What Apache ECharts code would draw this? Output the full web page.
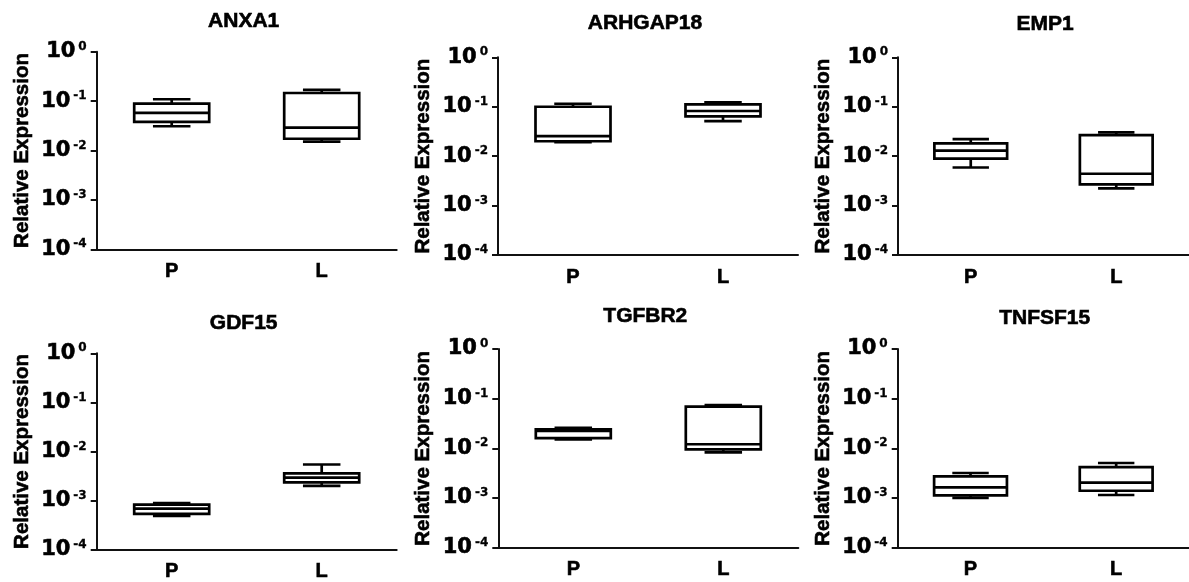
<!DOCTYPE html>
<html><head><meta charset="utf-8">
<script src="https://cdn.jsdelivr.net/npm/echarts@6/dist/echarts.min.js"></script>
<style>html,body{margin:0;padding:0;background:#fff}#c{width:1189px;height:582px}</style>
</head><body><div id="c"></div>
<script>
// ---- data ----
const genes = ['ANXA1', 'ARHGAP18', 'EMP1', 'GDF15', 'TGFBR2', 'TNFSF15'];
const groups = ['P', 'L'];
// each group: [min, Q1, median, Q3, max]
const ANXA1    = [[0.031, 0.038, 0.058, 0.0885, 0.109],      [0.0151, 0.0173, 0.029, 0.146, 0.168]];
const ARHGAP18 = [[0.0193, 0.020, 0.0255, 0.100, 0.115],     [0.051, 0.064, 0.082, 0.112, 0.123]];
const EMP1     = [[0.0059, 0.0089, 0.0129, 0.0182, 0.0222],  [0.00223, 0.00269, 0.0044, 0.0267, 0.0303]];
const GDF15    = [[0.00049, 0.000537, 0.000686, 0.000826, 0.000893], [0.0020, 0.00236, 0.00293, 0.00358, 0.00543]];
const TGFBR2   = [[0.0152, 0.0161, 0.0225, 0.024, 0.026],    [0.0083, 0.0095, 0.0121, 0.069, 0.0746]];
const TNFSF15  = [[0.00101, 0.00113, 0.00164, 0.00273, 0.00319], [0.00115, 0.0014, 0.00204, 0.0042, 0.00507]];
const geneData = [ANXA1, ARHGAP18, EMP1, GDF15, TGFBR2, TNFSF15];
const yMin = 0.0001, yMax = 1;
const yName = 'Relative Expression';

// ---- layout ----
const panels = [
  {left: 96.7, top: 51.7, height: 197.6, titleY: 11},
  {left: 498,  top: 57.3, height: 197.7, titleY: 13},
  {left: 898,  top: 57.3, height: 197.7, titleY: 14},
  {left: 96.7, top: 353.3, height: 199,  titleY: 313},
  {left: 498.3, top: 349, height: 198.7, titleY: 306},
  {left: 897.7, top: 349, height: 198.7, titleY: 308}
];
const PW = 300;
const ARIAL = '"Liberation Sans", Arial, sans-serif';
const DEJA = '"DejaVu Sans", sans-serif';
const heavy = {textBorderColor: '#000', textBorderWidth: 0.6};

function renderBox(params, api) {
  const x = api.value(0);
  const pMin = api.coord([x, api.value(1)]);
  const pQ1 = api.coord([x, api.value(2)]);
  const pMed = api.coord([x, api.value(3)]);
  const pQ3 = api.coord([x, api.value(4)]);
  const pMax = api.coord([x, api.value(5)]);
  const band = params.coordSys.width / groups.length;
  const bw = band * 0.5, cw = bw * 0.5, cx = pMed[0];
  const st = {stroke: '#000', lineWidth: 2.7, fill: null};
  return {
    type: 'group',
    children: [
      {type: 'line', shape: {x1: cx, y1: pQ3[1], x2: cx, y2: pMax[1]}, style: st},
      {type: 'line', shape: {x1: cx, y1: pQ1[1], x2: cx, y2: pMin[1]}, style: st},
      {type: 'line', shape: {x1: cx - cw / 2, y1: pMax[1], x2: cx + cw / 2, y2: pMax[1]}, style: st},
      {type: 'line', shape: {x1: cx - cw / 2, y1: pMin[1], x2: cx + cw / 2, y2: pMin[1]}, style: st},
      {type: 'rect', shape: {x: cx - bw / 2, y: pQ3[1], width: bw, height: pQ1[1] - pQ3[1]},
        style: {stroke: '#000', lineWidth: 2.7, fill: '#fff'}},
      {type: 'line', shape: {x1: cx - bw / 2, y1: pMed[1], x2: cx + bw / 2, y2: pMed[1]}, style: st}
    ]
  };
}

const grid = [], xAxis = [], yAxis = [], series = [], graphic = [];
panels.forEach((p, i) => {
  grid.push({left: p.left, top: p.top, width: PW, height: p.height, containLabel: false});
  xAxis.push({
    type: 'category', gridIndex: i, data: groups,
    axisLine: {lineStyle: {color: '#111', width: 2}},
    axisTick: {alignWithLabel: true, length: 5, lineStyle: {color: '#111', width: 2}},
    axisLabel: Object.assign({margin: 12, color: '#000', fontSize: 20, fontWeight: 'bold', fontFamily: ARIAL}, heavy),
    splitLine: {show: false}
  });
  yAxis.push({
    type: 'log', logBase: 10, gridIndex: i, min: yMin, max: yMax,
    name: yName, nameLocation: 'middle', nameRotate: 90, nameGap: 64,
    nameTextStyle: Object.assign({color: '#000', fontSize: 20.5, fontWeight: 'bold', fontFamily: ARIAL}, heavy),
    axisLine: {show: true, lineStyle: {color: '#111', width: 2}},
    axisTick: {show: true, length: 6, lineStyle: {color: '#111', width: 2}},
    splitLine: {show: false}, minorTick: {show: false},
    axisLabel: {
      margin: 10,
      formatter: v => {
        const e = Math.round(Math.log10(v));
        return '{b|10}{s|' + (e === 0 ? '0' : '-' + Math.abs(e)) + '}';
      },
      rich: {
        b: Object.assign({fontFamily: DEJA, fontWeight: 'bold', fontSize: 21, color: '#000', lineHeight: 22}, heavy),
        s: Object.assign({fontFamily: DEJA, fontWeight: 'bold', fontSize: 12, color: '#000', verticalAlign: 'top', lineHeight: 13, padding: [0, 0, 0, 3]}, {textBorderColor: '#000', textBorderWidth: 0.3})
      }
    }
  });
  series.push({
    type: 'custom', xAxisIndex: i, yAxisIndex: i,
    renderItem: renderBox,
    encode: {x: 0, y: [1, 2, 3, 4, 5]},
    data: geneData[i].map((d, j) => [j].concat(d)),
    silent: true
  });
  graphic.push({
    type: 'text', x: p.left + PW / 2 - 3, y: p.titleY,
    style: {text: genes[i], align: 'center', verticalAlign: 'top', fill: '#000',
      stroke: '#000', lineWidth: 0.6, font: 'bold 21px ' + ARIAL}
  });
});

const chart = echarts.init(document.getElementById('c'), null, {renderer: 'canvas'});
chart.setOption({
  backgroundColor: '#fff',
  animation: false,
  grid, xAxis, yAxis, series, graphic
});
</script>
</body></html>
